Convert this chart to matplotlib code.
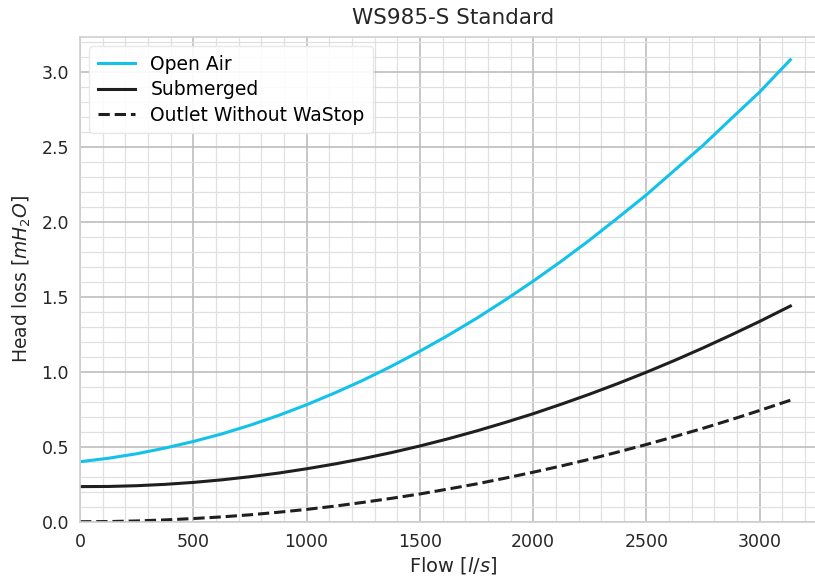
import matplotlib
matplotlib.use("Agg")
import matplotlib.pyplot as plt
from matplotlib.ticker import MultipleLocator

# -----------------------------
# Data
# -----------------------------
flow = [0, 125, 250, 375, 500, 625, 750, 875, 1000, 1125, 1250, 1375, 1500,
        1625, 1750, 1875, 2000, 2125, 2250, 2375, 2500, 2625, 2750, 2875, 3000, 3135]
open_air = [0.40, 0.423, 0.453, 0.491, 0.535, 0.585, 0.643, 0.708, 0.78, 0.859, 0.944, 1.037, 1.137,
            1.243, 1.356, 1.477, 1.604, 1.738, 1.879, 2.028, 2.18, 2.345, 2.51, 2.689, 2.866, 3.08]
submerged = [0.234, 0.235, 0.240, 0.249, 0.262, 0.279, 0.300, 0.324, 0.353, 0.385, 0.421, 0.461, 0.505,
             0.553, 0.605, 0.661, 0.72, 0.784, 0.851, 0.922, 0.997, 1.076, 1.159, 1.246, 1.336, 1.438]
no_wastop = [0.0, 0.001, 0.005, 0.012, 0.021, 0.032, 0.046, 0.063, 0.082, 0.104, 0.129, 0.156, 0.185,
             0.218, 0.252, 0.29, 0.33, 0.372, 0.417, 0.465, 0.515, 0.568, 0.623, 0.681, 0.742, 0.81]

series_labels = ["Open Air", "Submerged", "Outlet Without WaStop"]

FONT = "DejaVu Sans"
plt.rcParams["font.family"] = [FONT]
plt.rcParams["mathtext.fontset"] = "custom"
plt.rcParams["mathtext.rm"] = FONT
plt.rcParams["mathtext.it"] = FONT + ":italic"

fig = plt.figure(figsize=(8.15, 5.78), dpi=100)
ax = fig.add_axes([0.0982, 0.0974, 0.9166, 0.8391])

ax.plot(flow, open_air, color="#12C2E9", lw=2.2, label=series_labels[0])
ax.plot(flow, submerged, color="#1f1f1f", lw=2.2, label=series_labels[1])
ax.plot(flow, no_wastop, color="#1f1f1f", lw=2.2, ls="--", label=series_labels[2])

ax.set_xlim(0, 3297)
ax.set_ylim(0, 3.234)

ax.xaxis.set_major_locator(MultipleLocator(500))
ax.xaxis.set_minor_locator(MultipleLocator(100))
ax.yaxis.set_major_locator(MultipleLocator(0.5))
ax.yaxis.set_minor_locator(MultipleLocator(0.1))
ax.grid(which="major", color="#bdbdbd", lw=1.2)
ax.grid(which="minor", color="#e0e0e0", lw=0.9)
ax.set_axisbelow(True)
ax.tick_params(which="both", length=0, labelsize=12.5, colors="#262626", pad=8)

for s in ax.spines.values():
    s.set_color("#d0d0d0")
    s.set_linewidth(1.2)

ax.set_title("WS985-S Standard", fontsize=15.5, color="#262626", pad=9)
ax.set_xlabel("Flow [$l/s$]", fontsize=14, color="#262626", labelpad=3)
ax.set_ylabel("Head loss [$mH_2O$]", fontsize=13.5, color="#262626", labelpad=6)

leg = ax.legend(loc="upper left", fontsize=13.5, frameon=True, fancybox=True,
                borderpad=0.45, labelspacing=0.35, handlelength=2.0)
leg.get_frame().set_edgecolor("#e6e6e6")
leg.get_frame().set_facecolor("white")
leg.get_frame().set_alpha(0.9)

fig.savefig("out.png", dpi=100)
